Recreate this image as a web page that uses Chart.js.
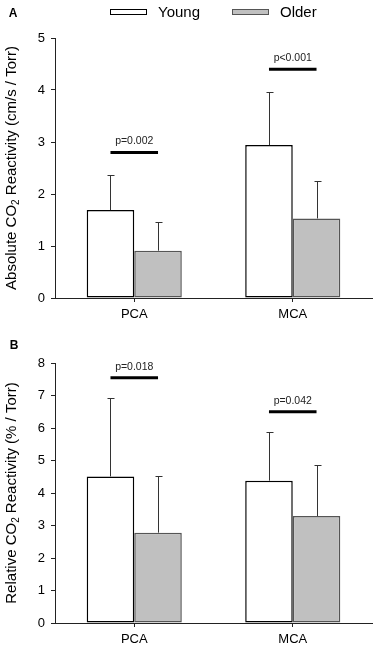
<!DOCTYPE html>
<html>
<head>
<meta charset="utf-8">
<script src="https://cdn.jsdelivr.net/npm/chart.js@4.4.1/dist/chart.umd.min.js"></script>
<style>
  html, body { margin: 0; padding: 0; background: #fff; }
  #wrap { width: 380px; height: 651px; }
  canvas { display: block; }
</style>
</head>
<body>
<div id="wrap">
  <canvas id="chartA" width="380" height="325"></canvas>
  <canvas id="chartB" width="380" height="326"></canvas>
</div>
<script>
// Kategoriler ve gruplar
const categories = ['PCA', 'MCA'];
const groupLabels = ['Young', 'Older'];

// Panel A - Absolute CO2 reactivity (cm/s / Torr)
const absYoung = [1.69, 2.94];
const absYoungSD = [0.68, 1.03];
const absOlder = [0.91, 1.53];
const absOlderSD = [0.56, 0.72];
const absSigLevel = [2.8, 4.4];
const absPValues = ['p=0.002', 'p<0.001'];
const absTicks = [0, 1, 2, 3, 4, 5];

// Panel B - Relative CO2 reactivity (% / Torr)
const relYoung = [4.51, 4.38];
const relYoungSD = [2.40, 1.49];
const relOlder = [2.78, 3.29];
const relOlderSD = [1.73, 1.57];
const relSigLevel = [7.55, 6.5];
const relPValues = ['p=0.018', 'p=0.042'];
const relTicks = [0, 1, 2, 3, 4, 5, 6, 7, 8];

const FONT = '"Liberation Sans", Arial, Helvetica, sans-serif';
Chart.defaults.font.family = FONT;

const youngFill = '#ffffff';
const youngBorder = '#000000';
const olderFill = '#c0c0c0';
const olderBorder = '#555555';

// Hata çubukları (sadece üst)
const errorBarPlugin = {
  id: 'errorBars',
  afterDatasetsDraw(chart) {
    const ctx = chart.ctx;
    const yScale = chart.scales.y;
    ctx.save();
    ctx.strokeStyle = '#333';
    ctx.lineWidth = 1;
    chart.data.datasets.forEach((ds, di) => {
      const meta = chart.getDatasetMeta(di);
      meta.data.forEach((bar, i) => {
        const top = Math.round(yScale.getPixelForValue(ds.data[i] + ds.sd[i])) + 0.5;
        const x = Math.round(bar.x) + 0.5;
        ctx.beginPath();
        ctx.moveTo(x, bar.y);
        ctx.lineTo(x, top);
        ctx.moveTo(x - 3, top);
        ctx.lineTo(x + 4, top);
        ctx.stroke();
      });
    });
    ctx.restore();
  }
};

// Anlamlılık çizgileri ve p değerleri
const sigPlugin = {
  id: 'sigBars',
  afterDatasetsDraw(chart, args, opts) {
    const ctx = chart.ctx;
    const yScale = chart.scales.y;
    const m0 = chart.getDatasetMeta(0);
    const m1 = chart.getDatasetMeta(1);
    ctx.save();
    opts.levels.forEach((level, i) => {
      const x1 = m0.data[i].x;
      const x2 = m1.data[i].x;
      const y = yScale.getPixelForValue(level);
      ctx.strokeStyle = '#000';
      ctx.lineWidth = 3;
      ctx.beginPath();
      ctx.moveTo(x1, y);
      ctx.lineTo(x2, y);
      ctx.stroke();
      ctx.fillStyle = '#222';
      ctx.font = '10.5px ' + FONT;
      ctx.textAlign = 'center';
      ctx.textBaseline = 'middle';
      ctx.fillText(opts.labels[i], (x1 + x2) / 2, y - 11);
    });
    ctx.restore();
  }
};

// Y ekseni başlığı (CO2 alt simgeli)
const yTitlePlugin = {
  id: 'yTitle',
  afterDraw(chart, args, opts) {
    const ctx = chart.ctx;
    const area = chart.chartArea;
    const parts = [
      { t: opts.before, size: 15, dy: 0 },
      { t: '2', size: 10, dy: 4 },
      { t: opts.after, size: 15, dy: 0 }
    ];
    ctx.save();
    ctx.fillStyle = '#000';
    ctx.textBaseline = 'middle';
    ctx.textAlign = 'left';
    let total = 0;
    parts.forEach(p => {
      ctx.font = p.size + 'px ' + FONT;
      p.w = ctx.measureText(p.t).width;
      total += p.w;
    });
    ctx.translate(opts.x, (area.top + area.bottom) / 2);
    ctx.rotate(-Math.PI / 2);
    let x = -total / 2;
    parts.forEach(p => {
      ctx.font = p.size + 'px ' + FONT;
      ctx.fillText(p.t, x, p.dy);
      x += p.w;
    });
    ctx.restore();
  }
};

// Panel harfi ve lejant
const panelPlugin = {
  id: 'panelDeco',
  afterDraw(chart, args, opts) {
    const ctx = chart.ctx;
    ctx.save();
    ctx.fillStyle = '#000';
    ctx.font = 'bold 12px ' + FONT;
    ctx.textAlign = 'center';
    ctx.textBaseline = 'middle';
    ctx.fillText(opts.letter, opts.lx, opts.ly);

    if (opts.legend) {
      const starts = [110, 232];
      chart.data.datasets.forEach((ds, i) => {
        const bx = starts[i];
        ctx.fillStyle = ds.backgroundColor;
        ctx.fillRect(bx, 9, 37, 6);
        ctx.strokeStyle = ds.borderColor;
        ctx.lineWidth = 1;
        ctx.strokeRect(bx + 0.5, 9.5, 36, 5);
        ctx.fillStyle = '#000';
        ctx.font = '15px ' + FONT;
        ctx.textAlign = 'left';
        ctx.fillText(ds.label, bx + 48, 13);
      });
    }
    ctx.restore();
  }
};

function makeChart(canvasId, cfg) {
  const canvas = document.getElementById(canvasId);
  return new Chart(canvas.getContext('2d'), {
    type: 'bar',
    data: {
      labels: categories,
      datasets: [
        {
          label: groupLabels[0],
          data: cfg.young,
          sd: cfg.youngSD,
          backgroundColor: youngFill,
          borderColor: youngBorder,
          borderWidth: 1.5,
          borderSkipped: false
        },
        {
          label: groupLabels[1],
          data: cfg.older,
          sd: cfg.olderSD,
          backgroundColor: olderFill,
          borderColor: olderBorder,
          borderWidth: 1.5,
          borderSkipped: false
        }
      ]
    },
    options: {
      responsive: false,
      animation: false,
      devicePixelRatio: 1,
      categoryPercentage: 0.6,
      barPercentage: 1.0,
      layout: { padding: { top: 38, right: 8, left: 0, bottom: 0 } },
      plugins: {
        legend: { display: false },
        tooltip: { enabled: false },
        sigBars: { levels: cfg.sigLevel, labels: cfg.pValues },
        yTitle: { before: cfg.titleBefore, after: cfg.titleAfter, x: 12 },
        panelDeco: { letter: cfg.letter, lx: cfg.lx, ly: cfg.ly, legend: cfg.legend }
      },
      scales: {
        x: {
          grid: { drawOnChartArea: false, offset: false, tickLength: 4, color: '#222' },
          border: { display: true, color: '#222', width: 1 },
          ticks: { color: '#000', font: { size: 13 }, padding: 5 },
          afterFit: (s) => { s.height = cfg.xHeight; }
        },
        y: {
          min: cfg.ticks[0],
          max: cfg.ticks[cfg.ticks.length - 1],
          afterBuildTicks: (s) => { s.ticks = cfg.ticks.map(v => ({ value: v })); },
          grid: { drawOnChartArea: false, tickLength: 4, color: '#222' },
          border: { display: true, color: '#222', width: 1 },
          ticks: { color: '#000', font: { size: 13 }, padding: 6 },
          afterFit: (s) => { s.width = 55; }
        }
      }
    },
    plugins: [errorBarPlugin, sigPlugin, yTitlePlugin, panelPlugin]
  });
}

makeChart('chartA', {
  young: absYoung, youngSD: absYoungSD,
  older: absOlder, olderSD: absOlderSD,
  sigLevel: absSigLevel, pValues: absPValues,
  ticks: absTicks,
  titleBefore: 'Absolute CO', titleAfter: ' Reactivity (cm/s / Torr)',
  letter: 'A', lx: 13, ly: 14, legend: true,
  xHeight: 27
});

makeChart('chartB', {
  young: relYoung, youngSD: relYoungSD,
  older: relOlder, olderSD: relOlderSD,
  sigLevel: relSigLevel, pValues: relPValues,
  ticks: relTicks,
  titleBefore: 'Relative CO', titleAfter: ' Reactivity (% / Torr)',
  letter: 'B', lx: 14, ly: 21, legend: false,
  xHeight: 28
});
</script>
</body>
</html>
